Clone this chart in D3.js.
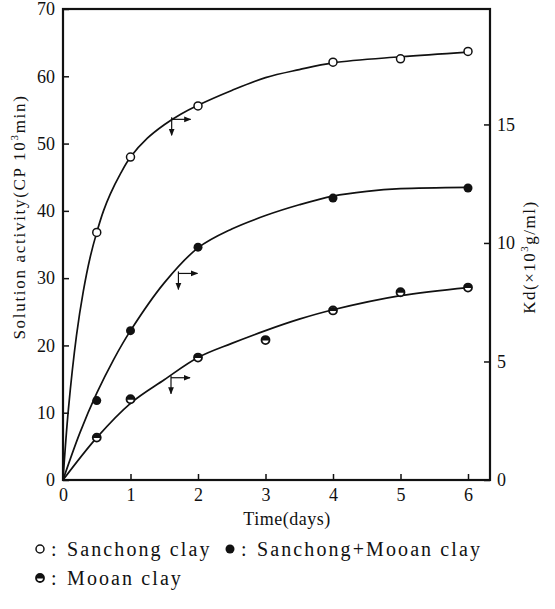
<!DOCTYPE html>
<html>
<head>
<meta charset="utf-8">
<script src="https://cdn.jsdelivr.net/npm/d3@7"></script>
<style>
  body { margin: 0; background: #fff; }
  svg text { font-family: "Liberation Serif", "Times New Roman", "DejaVu Serif", serif !important; fill: #111; }
</style>
</head>
<body>
<svg width="555" height="609"></svg>
<script>
// measured points
const sanchong = [[0.5, 36.8], [1, 48.0], [2, 55.6], [4, 62.1], [5, 62.6], [6, 63.7]];
const mixed = [[0.5, 11.8], [1, 22.2], [2, 34.6], [4, 41.9], [6, 43.4]];
const mooan = [[0.5, 6.3], [1, 12.0], [2, 18.2], [3, 20.8], [4, 25.2], [5, 27.9], [6, 28.6]];

// fitted curves as drawn
const sanchongCurve = [[0, 0], [0.08, 10.5], [0.2, 21.5], [0.3, 28], [0.4, 33], [0.5, 36.8], [0.6, 40],
  [0.7, 42.5], [0.85, 45.5], [1, 48], [1.25, 50.8], [1.5, 52.8], [1.75, 54.4], [2, 55.7], [2.5, 57.9],
  [3, 59.8], [3.5, 61.0], [4, 62.0], [5, 62.9], [6, 63.6]];
const mixedCurve = [[0, 0], [0.25, 7], [0.5, 12.9], [0.75, 17.9], [1, 22.2], [1.5, 29.3], [2, 34.5],
  [2.5, 37.3], [3, 39.3], [3.5, 40.9], [4, 42.2], [4.5, 42.9], [5, 43.3], [6, 43.5]];
const mooanCurve = [[0, 0], [0.5, 6.3], [1, 11.4], [1.5, 14.9], [2, 18.2], [2.5, 20.3], [3, 22.2],
  [3.5, 23.9], [4, 25.3], [5, 27.4], [6, 28.6]];

// axis-pointer arrows (corner point on each curve)
const arrows = [[1.61, 53.6], [1.71, 30.7], [1.60, 15.2]];

const xTicks = [0, 1, 2, 3, 4, 5, 6];
const yTicks = [0, 10, 20, 30, 40, 50, 60, 70];
const kdTicks = [0, 5, 10, 15];

const svg = d3.select("svg");
const m = { left: 63, right: 490, top: 9, bottom: 480 };
const serif = '"Liberation Serif", "Times New Roman", serif';

const x = d3.scaleLinear().domain([0, 6]).range([m.left, 468]);
const y = d3.scaleLinear().domain([0, 70]).range([m.bottom, m.top]);
const yKd = d3.scaleLinear().domain([0, 19.87]).range([m.bottom, m.top]);

// frame
svg.append("rect")
  .attr("x", m.left).attr("y", m.top)
  .attr("width", m.right - m.left).attr("height", m.bottom - m.top)
  .attr("fill", "none").attr("stroke", "#111").attr("stroke-width", 2.2);

// axes with inward ticks
const gx = svg.append("g")
  .attr("transform", `translate(0,${m.bottom})`)
  .call(d3.axisBottom(x).tickValues(xTicks).tickSize(-6).tickPadding(8).tickFormat(d3.format("d")));
const gy = svg.append("g")
  .attr("transform", `translate(${m.left},0)`)
  .call(d3.axisLeft(y).tickValues(yTicks).tickSize(-6).tickPadding(8).tickFormat(d3.format("d")));
const gk = svg.append("g")
  .attr("transform", `translate(${m.right},0)`)
  .call(d3.axisRight(yKd).tickValues(kdTicks).tickSize(-6).tickPadding(7).tickFormat(d3.format("d")));

[gx, gy, gk].forEach(g => {
  g.attr("font-family", serif);
  g.select(".domain").remove();
  g.selectAll(".tick line").attr("stroke", "#111").attr("stroke-width", 1.5);
  g.selectAll(".tick text").style("font-size", "18px").attr("fill", "#111");
});

// curves
const line = d3.line()
  .x(d => x(d[0]))
  .y(d => y(d[1]))
  .curve(d3.curveCatmullRom.alpha(0.5));

[sanchongCurve, mixedCurve, mooanCurve].forEach(c => {
  svg.append("path")
    .datum(c)
    .attr("d", line)
    .attr("fill", "none")
    .attr("stroke", "#111")
    .attr("stroke-width", 1.7);
});

// markers
function openMark(g) {
  g.append("circle").attr("r", 4).attr("fill", "#fff").attr("stroke", "#111").attr("stroke-width", 1.5);
}
function fullMark(g) {
  g.append("circle").attr("r", 4.5).attr("fill", "#111");
}
function halfMark(g) {
  g.append("circle").attr("r", 4).attr("fill", "#fff").attr("stroke", "#111").attr("stroke-width", 1.8);
  g.append("path").attr("d", "M-4,0.5A4,4 0 0 1 4,0.5Z").attr("fill", "#111");
}

function drawPoints(data, mark) {
  data.forEach(d => {
    const g = svg.append("g").attr("transform", `translate(${x(d[0])},${y(d[1])})`);
    mark(g);
  });
}
drawPoints(sanchong, openMark);
drawPoints(mixed, fullMark);
drawPoints(mooan, halfMark);

// arrows
svg.append("defs").append("marker")
  .attr("id", "ah").attr("viewBox", "0 0 10 10")
  .attr("refX", 9).attr("refY", 5)
  .attr("markerWidth", 6).attr("markerHeight", 6)
  .attr("orient", "auto")
  .append("path").attr("d", "M0,1L10,5L0,9Z").attr("fill", "#111");

arrows.forEach(a => {
  const cx = x(a[0]), cy = y(a[1]);
  svg.append("line")
    .attr("x1", cx).attr("y1", cy).attr("x2", cx + 19).attr("y2", cy)
    .attr("stroke", "#111").attr("stroke-width", 1.2).attr("marker-end", "url(#ah)");
  svg.append("line")
    .attr("x1", cx).attr("y1", cy - 2).attr("x2", cx).attr("y2", cy + 16)
    .attr("stroke", "#111").attr("stroke-width", 1.2).attr("marker-end", "url(#ah)");
});

// axis titles
svg.append("text")
  .attr("transform", "translate(25,217) rotate(-90)")
  .attr("text-anchor", "middle")
  .attr("font-family", serif)
  .style("font-size", "17px").style("letter-spacing", "1.7px")
  .html("Solution activity(CP 10<tspan dy='-7' style='font-size:11px'>3</tspan><tspan dy='7'>min)</tspan>");

svg.append("text")
  .attr("transform", "translate(535,257) rotate(-90)")
  .attr("text-anchor", "middle")
  .attr("font-family", serif)
  .style("font-size", "17px").style("letter-spacing", "1.5px")
  .html("Kd(×10<tspan dy='-7' style='font-size:11px'>3</tspan><tspan dy='7'>g/ml)</tspan>");

svg.append("text")
  .attr("x", 287).attr("y", 525)
  .attr("text-anchor", "middle")
  .attr("font-family", serif)
  .style("font-size", "18px").style("letter-spacing", "0.5px")
  .text("Time(days)");

// legend
const legend = [
  { label: "Sanchong clay", mark: openMark, x: 40, y: 549 },
  { label: "Sanchong+Mooan clay", mark: fullMark, x: 230, y: 549 },
  { label: "Mooan clay", mark: halfMark, x: 40, y: 578 }
];
legend.forEach(l => {
  const g = svg.append("g").attr("transform", `translate(${l.x},${l.y})`);
  l.mark(g);
  g.append("text").attr("x", 11).attr("y", 7).attr("font-family", serif)
    .style("font-size", "20px").text(":");
  g.append("text").attr("x", 27).attr("y", 7).attr("font-family", serif)
    .style("font-size", "20px").style("letter-spacing", "2.1px").text(l.label);
});
</script>
</body>
</html>
